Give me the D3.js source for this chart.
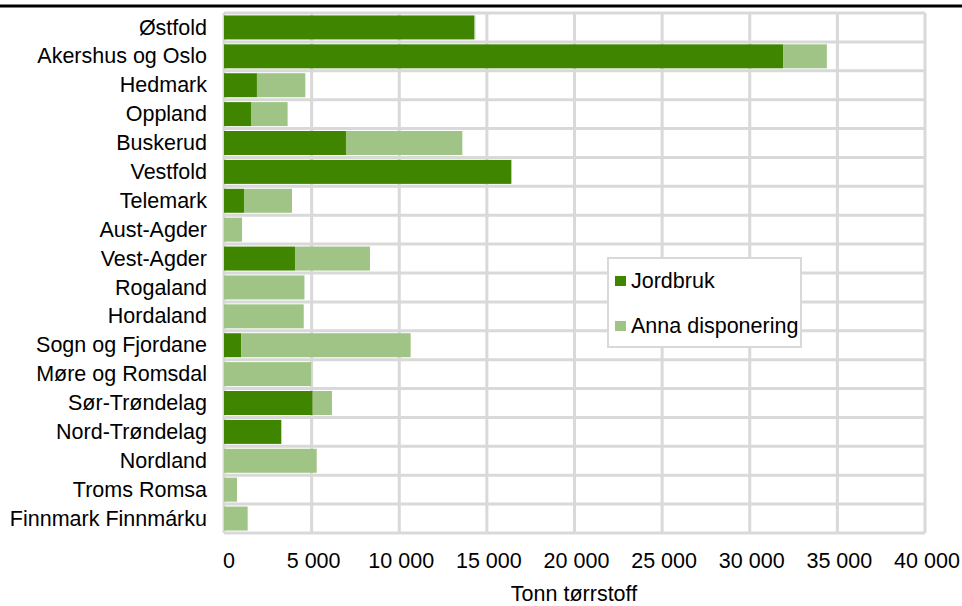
<!DOCTYPE html>
<html><head><meta charset="utf-8">
<script src="https://cdn.jsdelivr.net/npm/d3@7"></script>
<style>body{margin:0;background:#fff;}svg{display:block;font-family:"Liberation Sans",Arial,sans-serif;}</style>
</head><body><svg id="c" width="962" height="606"></svg>
<script>
const categories = ["Østfold","Akershus og Oslo","Hedmark","Oppland","Buskerud","Vestfold","Telemark","Aust-Agder","Vest-Agder","Rogaland","Hordaland","Sogn og Fjordane","Møre og Romsdal","Sør-Trøndelag","Nord-Trøndelag","Nordland","Troms Romsa","Finnmark Finnmárku"];
const jordbruk = [14270,31900,1880,1540,6960,16380,1140,0,4050,0,0,990,0,5060,3270,0,0,0];
const anna = [70,2500,2760,2090,6640,40,2740,1030,4280,4590,4550,9660,4970,1100,0,5290,740,1350];
const xTicks = [0,5000,10000,15000,20000,25000,30000,35000,40000];
const seriesNames = ["Jordbruk","Anna disponering"];
const colors = ["#3f8500","#a0c485"];

const svg = d3.select("#c");
const FS = 21.5;
const L=224, R=925, T=13, B=533;
const x = d3.scaleLinear().domain([0,40000]).range([L,R]);
const y = d3.scaleBand().domain(categories).range([T,B]).paddingInner(0.17).paddingOuter(0.085);
const yb = d3.scaleBand().domain(categories).range([T,B]);

svg.append("line").attr("x1",0).attr("x2",962).attr("y1",6).attr("y2",6).attr("stroke","#000").attr("stroke-width",3);

const grid = svg.append("g");
const gc="#d9d9d9";
categories.forEach(c=>{
  grid.append("line").attr("x1",L).attr("x2",R).attr("y1",yb(c)).attr("y2",yb(c)).attr("stroke",gc).attr("stroke-width",3);
});
grid.append("line").attr("x1",L).attr("x2",R).attr("y1",B).attr("y2",B).attr("stroke",gc).attr("stroke-width",3);
xTicks.forEach(t=>{
  grid.append("line").attr("x1",x(t)).attr("x2",x(t)).attr("y1",T).attr("y2",B).attr("stroke",gc).attr("stroke-width",3);
});

const stack = d3.stack().keys([0,1]).value((d,k)=>d[k+1]);
const rows = categories.map((c,i)=>[c,jordbruk[i],anna[i]]);
const series = stack(rows);
series.forEach((s,si)=>{
  svg.append("g").selectAll("rect").data(s).join("rect")
    .attr("x",d=>x(d[0])).attr("width",d=>x(d[1])-x(d[0]))
    .attr("y",d=>y(d.data[0])).attr("height",y.bandwidth())
    .attr("fill",colors[si]);
});

svg.append("g").selectAll("text").data(categories).join("text")
  .attr("x",207).attr("y",d=>yb(d)+yb.bandwidth()/2).attr("dy","0.33em")
  .attr("text-anchor","end").attr("font-size",FS).attr("fill","#000").text(d=>d);

const fmt = v => d3.format(",")(v).replace(/,/g," ");
svg.append("g").selectAll("text").data(xTicks).join("text")
  .attr("x",d=>x(d)+(d===0?5:2)).attr("y",568).attr("text-anchor","middle")
  .attr("font-size",FS).attr("fill","#000").text(fmt);

svg.append("text").attr("x",574).attr("y",601).attr("text-anchor","middle")
  .attr("font-size",FS).attr("fill","#000").text("Tonn tørrstoff");

const lg = svg.append("g");
lg.append("rect").attr("x",608).attr("y",258).attr("width",193).attr("height",89)
  .attr("fill","#fff").attr("stroke",gc).attr("stroke-width",2);
seriesNames.forEach((n,i)=>{
  const yy = 280 + i*45;
  lg.append("rect").attr("x",615).attr("y",yy-4).attr("width",11).attr("height",10).attr("fill",colors[i]);
  lg.append("text").attr("x",631).attr("y",yy).attr("dy","0.35em").attr("font-size",FS).attr("fill","#000").text(n);
});
</script></body></html>
